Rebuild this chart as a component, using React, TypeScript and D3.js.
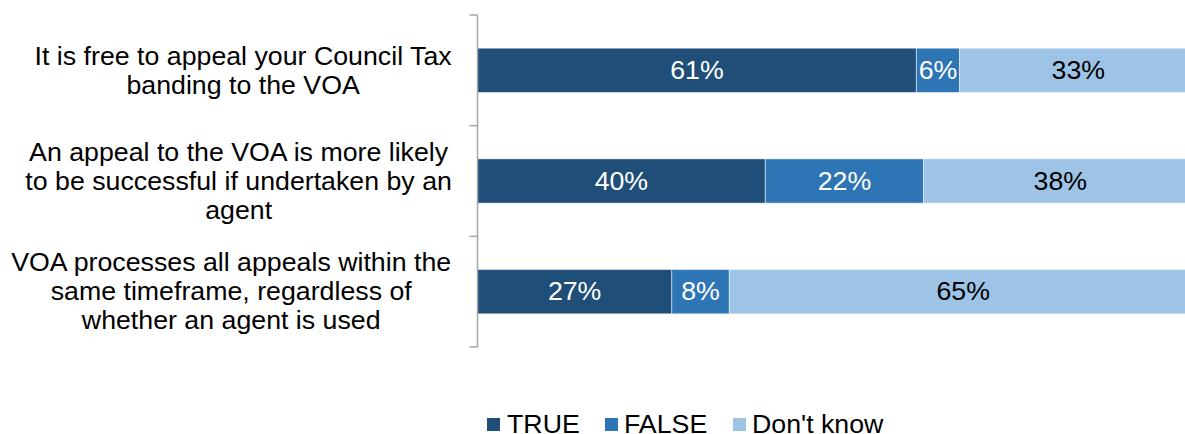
import React from "react";
import * as d3 from "d3";

const categories = [
  ["It is free to appeal your Council Tax", "banding to the VOA"],
  ["An appeal to the VOA is more likely", "to be successful if undertaken by an", "agent"],
  ["VOA processes all appeals within the", "same timeframe, regardless of", "whether an agent is used"],
];
const seriesNames = ["TRUE", "FALSE", "Don't know"];
const trueValues = [61, 40, 27];
const falseValues = [6, 22, 8];
const dontKnowValues = [33, 38, 65];
const colors = ["#1F4E79", "#2E75B6", "#9DC3E6"];
const labelColors = ["#ffffff", "#ffffff", "#000000"];

const SX = 1.07;
const FONT = "'Liberation Sans', Arial, sans-serif";

function measure(text: string, size: number): number {
  const c = document.createElement("canvas").getContext("2d");
  if (!c) return text.length * size * 0.5;
  c.font = `${size}px ${FONT}`;
  return c.measureText(text).width;
}

export default function App() {
  const W = 1185, H = 434;
  const x0 = 477.5, x1 = 1197;
  const y0 = 15, y1 = 347;
  const labelRight = 452;
  const x = d3.scaleLinear().domain([0, 100]).range([x0, x1]);
  const y = d3.scaleBand<number>().domain([0, 1, 2]).range([y0, y1]).paddingInner(0.6).paddingOuter(0.3);
  const series = [trueValues, falseValues, dontKnowValues];
  const step = (y1 - y0) / 3;
  const legendItems = [
    { sx: 487, tx: 507 },
    { sx: 605, tx: 624 },
    { sx: 733, tx: 752 },
  ];
  return (
    <svg width={W} height={H} style={{ position: "absolute", left: 0, top: 0 }} fontFamily={FONT}>
      {categories.map((lines, i) => {
        const cy = y(i)! + y.bandwidth() / 2;
        const lh = 29;
        const start = cy - ((lines.length - 1) * lh) / 2;
        const maxW = Math.max(...lines.map((l) => measure(l, 25))) * SX;
        const cx = labelRight - maxW / 2;
        return (
          <g key={i}>
            {lines.map((l, j) => (
              <text key={j} transform={`translate(${cx},${start + j * lh}) scale(${SX},1)`} dy="0.35em" textAnchor="middle" fontSize={25} fill="#000">{l}</text>
            ))}
          </g>
        );
      })}
      {categories.map((_, i) => {
        let acc = 0;
        return (
          <g key={i}>
            {series.map((vals, s) => {
              const v = vals[i];
              const xs = x(acc);
              acc += v;
              const xe = x(acc);
              return (
                <g key={s}>
                  <rect x={xs} y={y(i)!} width={xe - xs} height={y.bandwidth()} fill={colors[s]} stroke="#ffffff" strokeOpacity={0.5} strokeWidth={1} />
                  <text transform={`translate(${(xs + xe) / 2},${y(i)! + y.bandwidth() / 2}) scale(${SX},1)`} dy="0.35em" textAnchor="middle" fontSize={25} fill={labelColors[s]}>{v}%</text>
                </g>
              );
            })}
          </g>
        );
      })}
      <line x1={x0} x2={x0} y1={y0} y2={y1} stroke="#A6A6A6" strokeWidth={1.5} />
      {[0, 1, 2, 3].map((k) => (
        <line key={k} x1={x0 - 8} x2={x0} y1={y0 + k * step} y2={y0 + k * step} stroke="#A6A6A6" strokeWidth={1.5} />
      ))}
      {seriesNames.map((n, s) => (
        <g key={n}>
          <rect x={legendItems[s].sx} y={418} width={13} height={13} fill={colors[s]} />
          <text transform={`translate(${legendItems[s].tx},433) scale(${SX},1)`} fontSize={25} fill="#000">{n}</text>
        </g>
      ))}
    </svg>
  );
}
